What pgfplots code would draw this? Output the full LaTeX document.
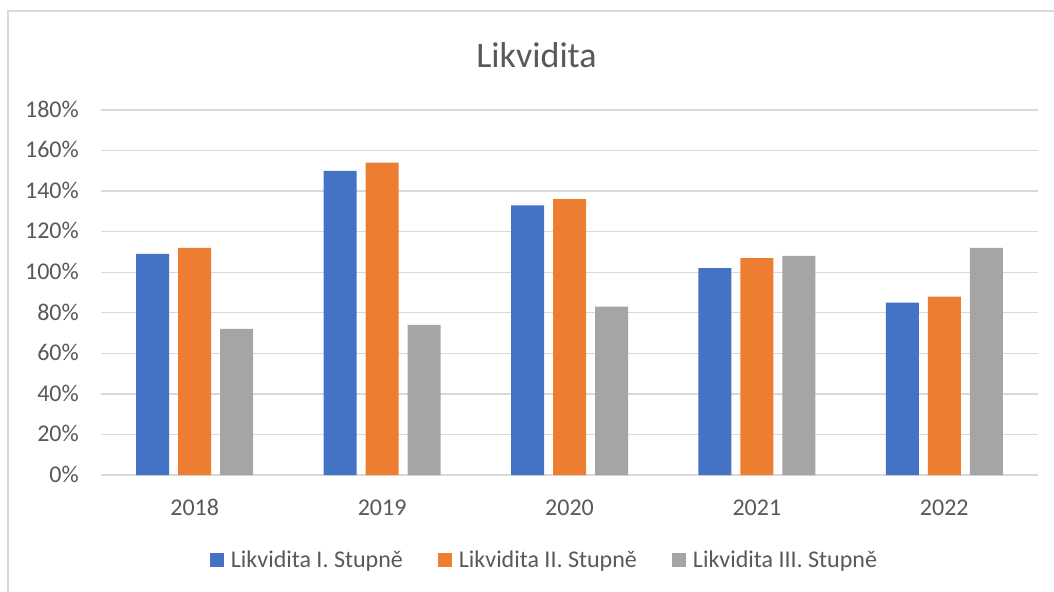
\documentclass[border=0pt]{standalone}
\usepackage{fontspec}
\setmainfont{Carlito}
\usepackage{pgfplots}
\pgfplotsset{compat=1.18}
\definecolor{cblue}{HTML}{4472C4}
\definecolor{corange}{HTML}{ED7D31}
\definecolor{cgray}{HTML}{A5A5A5}
\definecolor{cgrid}{HTML}{D9D9D9}
\definecolor{ctext}{HTML}{595959}
\begin{document}
\begin{tikzpicture}
\path[use as bounding box] (0bp,0bp) rectangle (1054bp,592bp);
\fill[white] (0bp,0bp) rectangle (1054bp,592bp);
\draw[cgrid, line width=1.5bp] (8bp,0bp) -- (8bp,581bp) -- (1054bp,581bp);
\node[anchor=base, text=ctext, font=\fontsize{36bp}{42bp}\selectfont, inner sep=0pt] at (536.5bp,524.3bp) {Likvidita};
\begin{axis}[
  at={(101bp,117bp)}, anchor=south west,
  width=937bp, height=365bp, scale only axis,
  ybar=9bp, bar width=33bp,
  xmin=-0.5, xmax=4.5, ymin=0, ymax=180,
  xtick=data, xticklabels={2018,2019,2020,2021,2022},
  ytick={0,20,...,180},
  yticklabels={0\%,20\%,40\%,60\%,80\%,100\%,120\%,140\%,160\%,180\%},
  major tick length=0pt,
  axis lines*=left,
  x axis line style={cgrid, line width=1.5bp},
  y axis line style={draw=none},
  ymajorgrids, grid style={cgrid, line width=1.3bp},
  tick label style={text=ctext, font=\fontsize{24bp}{28bp}\selectfont, inner sep=0pt},
  yticklabel style={anchor=base east, xshift=-22bp, yshift=-7.3bp},
  xticklabel style={anchor=base, yshift=-40bp},
  legend columns=3,
  legend style={at={(0.4733,-0.2329)}, anchor=center, draw=none, fill=none,
    font=\fontsize{24bp}{28bp}\selectfont, text=ctext, inner sep=0pt,
    /tikz/every even column/.append style={column sep=33bp},
    /tikz/every odd column/.append style={column sep=5bp}},
  legend cell align=left,
  legend image code/.code={\fill[#1] (0bp,-7bp) rectangle (14bp,7bp);},
  clip=false,
]
\addplot[fill=cblue, draw=none] coordinates {(0,109) (1,150) (2,133) (3,102) (4,85)};
\addplot[fill=corange, draw=none] coordinates {(0,112) (1,154) (2,136) (3,107) (4,88)};
\addplot[fill=cgray, draw=none] coordinates {(0,72) (1,74) (2,83) (3,108) (4,112)};
\legend{Likvidita I. Stupně, Likvidita II. Stupně, Likvidita III. Stupně}
\end{axis}
\end{tikzpicture}
\end{document}
